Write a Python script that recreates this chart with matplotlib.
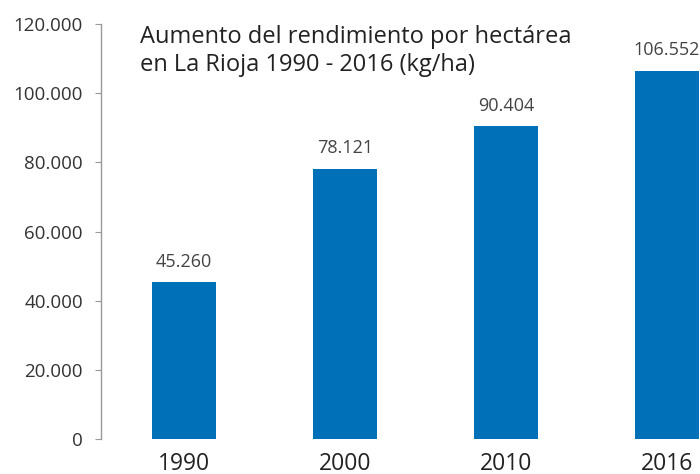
import matplotlib
matplotlib.use("Agg")
import matplotlib.pyplot as plt
from matplotlib.ticker import FuncFormatter

# Data
years = ['1990', '2000', '2010', '2016']
yields = [45260, 78121, 90404, 106552]
value_labels = ['45.260', '78.121', '90.404', '106.552']
y_ticks = [0, 20000, 40000, 60000, 80000, 100000, 120000]

plt.rcParams['font.family'] = ['Open Sans', 'DejaVu Sans']

fig = plt.figure(figsize=(7, 4.74), dpi=100)
ax = fig.add_axes([0.1443, 0.0738, 0.8557, 0.8755])

x = range(len(years))
ax.bar(x, yields, width=0.4, color='#0070b8')

for i, v in enumerate(yields):
    ax.text(i, v + 3300, value_labels[i], ha='center', va='bottom',
            fontsize=13, color='#444444')

ax.set_xlim(-0.516, 3.205)
ax.set_ylim(0, 120000)
ax.set_yticks(y_ticks)
ax.yaxis.set_major_formatter(FuncFormatter(lambda v, p: f"{int(v):,}".replace(',', '.')))
ax.set_xticks(list(x))
ax.set_xticklabels(years)

for s in ['top', 'right', 'bottom']:
    ax.spines[s].set_visible(False)
ax.spines['left'].set_color('#999999')
ax.spines['left'].set_linewidth(1)

ax.tick_params(axis='y', length=4, color='#999999', labelsize=13.5, labelcolor='#333333', pad=9)
ax.tick_params(axis='x', length=0, labelsize=16.5, labelcolor='#222222', pad=9)

fig.text(0.2, 0.948, "Aumento del rendimiento por hectárea\nen La Rioja 1990 - 2016 (kg/ha)",
         ha='left', va='top', fontsize=17, color='#222222', linespacing=1.25)

fig.savefig('out.png', dpi=100)
